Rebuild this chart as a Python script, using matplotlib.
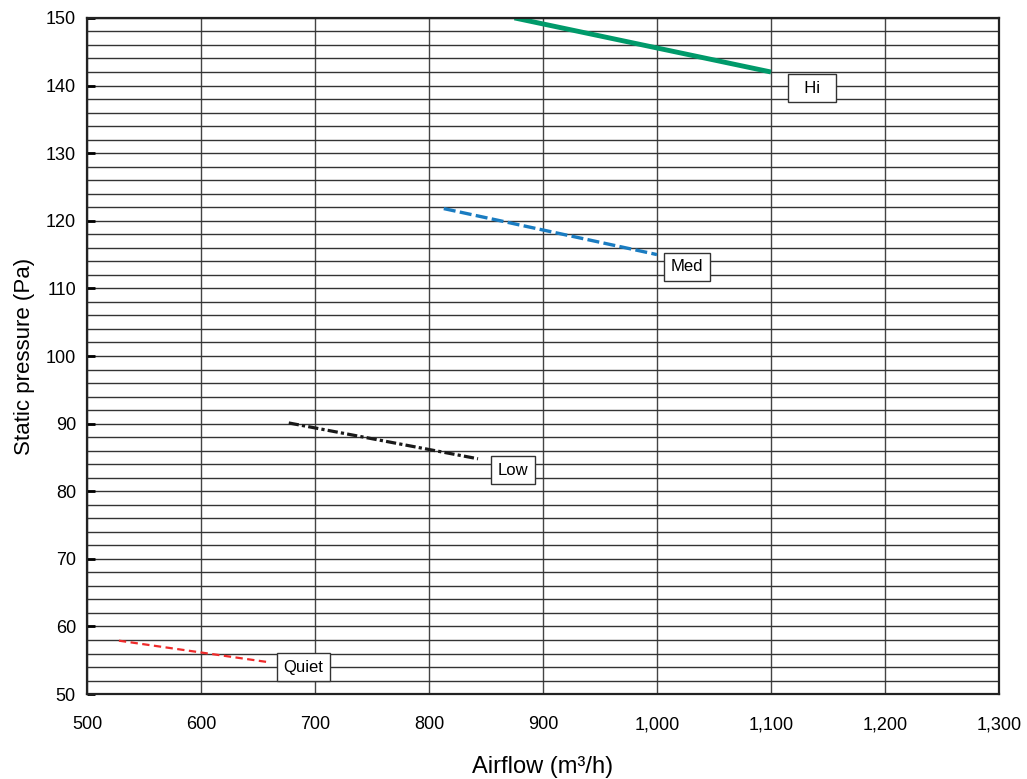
import matplotlib
matplotlib.use('Agg')
import matplotlib.pyplot as plt
from matplotlib.ticker import MultipleLocator, FuncFormatter

plt.rcParams['font.family'] = ['Liberation Sans', 'DejaVu Sans']

# fan curves (airflow m3/h, static pressure Pa)
hi_x = [875, 1100]
hi_y = [150, 142]
med_x = [813, 1000]
med_y = [121.8, 115]
low_x = [677, 843]
low_y = [90.1, 84.8]
quiet_x = [528, 660]
quiet_y = [57.9, 54.7]

labels = ['Hi', 'Med', 'Low', 'Quiet']
label_x = [1136, 1026, 874, 690]
label_y = [139.6, 113.2, 83.1, 54.0]

fig = plt.figure(figsize=(10.27, 7.79), dpi=100)
ax = fig.add_axes([0.0847, 0.109, 0.888, 0.868])

ax.set_xlim(500, 1300)
ax.set_ylim(50, 150)
ax.xaxis.set_major_locator(MultipleLocator(100))
ax.yaxis.set_major_locator(MultipleLocator(10))
ax.yaxis.set_minor_locator(MultipleLocator(2))
ax.xaxis.set_major_formatter(FuncFormatter(lambda v, p: '{:,.0f}'.format(v)))

ax.grid(True, which='major', axis='x', color='#444444', lw=1.0)
ax.grid(True, which='both', axis='y', color='#333333', lw=1.0)
ax.set_axisbelow(True)

for s in ax.spines.values():
    s.set_linewidth(1.6)
    s.set_color('#222222')

ax.tick_params(axis='y', which='major', direction='in', length=6, width=2,
               labelsize=13, pad=8)
ax.tick_params(axis='y', which='minor', length=0)
ax.tick_params(axis='x', length=0, labelsize=13, pad=16)

ax.plot(hi_x, hi_y, color='#009a6a', lw=3.5, solid_capstyle='butt')
ax.plot(med_x, med_y, color='#1a7cc1', lw=2.4, ls=(0, (3.6, 1.3)))
ax.plot(low_x, low_y, color='#1a1a1a', lw=2.3, ls=(0, (3.2, 1, 1, 1)))
ax.plot(quiet_x, quiet_y, color='#ee2a2a', lw=1.6, ls=(0, (3.3, 2)))

for t, x, y in zip(labels, label_x, label_y):
    txt = '  ' + t + '  ' if len(t) < 3 else t
    ax.text(x, y, txt, ha='center', va='center', fontsize=12,
            bbox=dict(boxstyle='square,pad=0.4', fc='white', ec='#333333', lw=1))

ax.set_xlabel('Airflow (m³/h)', fontsize=17, labelpad=16)
ax.set_ylabel('Static pressure (Pa)', fontsize=16, labelpad=8)

fig.savefig('out.png', dpi=100)
